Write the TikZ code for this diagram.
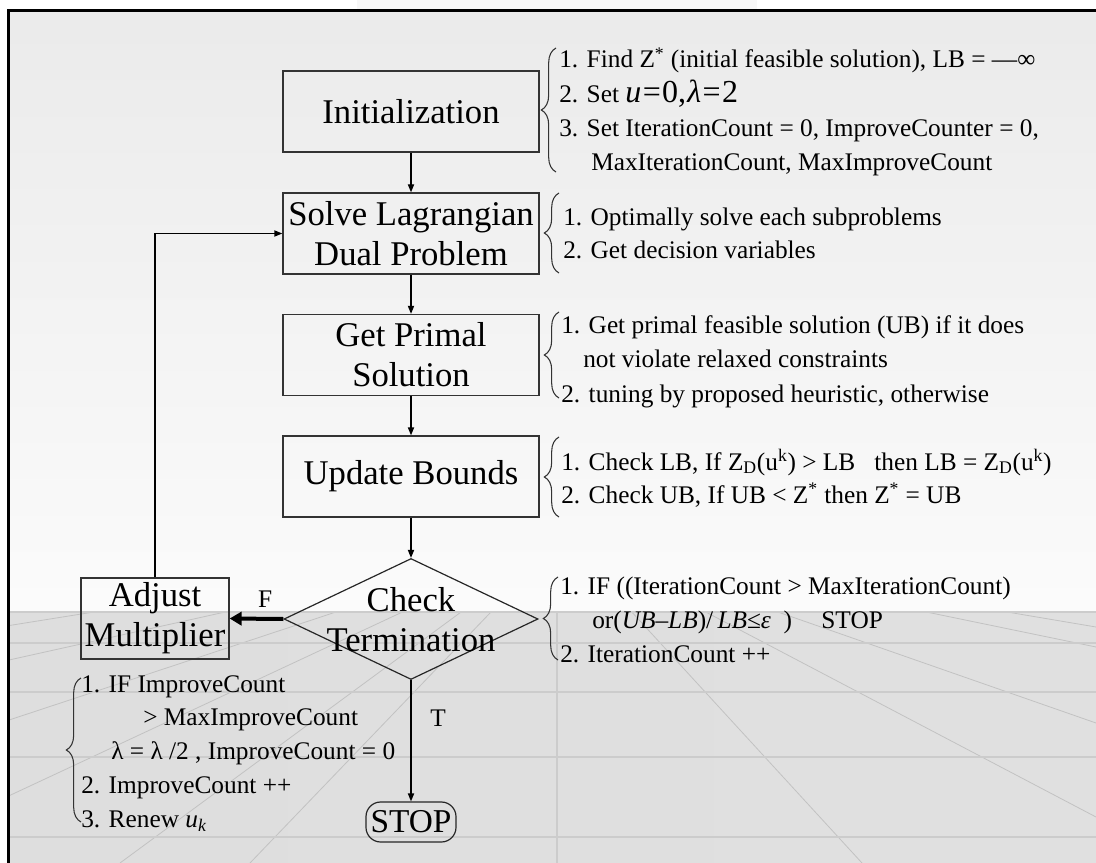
\documentclass[tikz,border=0pt]{standalone}
\usepackage{fontspec}
\setmainfont{Liberation Serif}
\usetikzlibrary{arrows.meta,shapes.geometric,decorations.pathreplacing}

\begin{document}
\begin{tikzpicture}[x=0.75pt,y=-0.75pt,
  stepbox/.style={draw=black!80, line width=1pt, minimum width=192pt, minimum height=60.75pt,
    inner sep=0pt, align=center, font=\fontsize{26}{30}\selectfont},
  adjbox/.style={stepbox, minimum width=111pt},
  decision/.style={draw=black!85, line width=0.9pt, diamond, minimum width=190.5pt,
    minimum height=90.75pt, inner sep=0pt},
  bigtext/.style={inner sep=0pt, align=center, font=\fontsize{26}{30}\selectfont},
  stopbox/.style={draw=black!85, line width=0.9pt, rounded corners=11pt, minimum width=67.5pt,
    minimum height=30pt, inner sep=0pt, font=\fontsize{25}{28}\selectfont},
  note/.style={anchor=base west, inner sep=0pt, font=\fontsize{19}{25}\selectfont},
  flow/.style={line width=1pt, -{Triangle[length=6pt,width=4.6pt]}},
  boldflow/.style={line width=3pt, -{Triangle[length=9pt,width=10pt]}},
  curly/.style={draw=black!80, line width=0.8pt, decorate, decoration={brace, amplitude=#1}},
  curly/.default=11pt,
  floorline/.style={draw=black!20, line width=1.1pt},
  ray/.style={draw=black!24, line width=0.6pt},
  flowlabel/.style={inner sep=0pt, font=\fontsize{19}{22}\selectfont}
]
\useasboundingbox (0,0) rectangle (1096,863);

% slide background
\fill[white] (0,0) rectangle (1096,863);
\fill[black!3] (357,0) rectangle (757,9);
\shade[top color=black!8, bottom color=black!1.5] (9,11) rectangle (1096,612);
\shade[left color=black!13, middle color=black!2, right color=black!12] (9,612) rectangle (1096,863);

% perspective floor grid
\begin{scope}
  \clip (9,612) rectangle (1096,863);
  \foreach \a/\b in {0/627, 0/662, 0/723, 0/800, 120/863, 250/863,
                     862/863, 1096/817, 1096/723, 1096/647, 1096/627}
    \draw[ray] (563,537) -- (\a,\b);
\end{scope}
\foreach \yy in {612,643,692,757,837}
  \draw[floorline] (9,\yy) -- (1096,\yy);
\draw[floorline] (557,612) -- (557,863);

% slide frame
\draw[line width=2.3pt] (7,10.5) -- (1096,10.5);
\draw[line width=2.3pt] (8.5,9.5) -- (8.5,863);

% flowchart nodes
\node[stepbox] (init)   at (411,111.5) {Initialization};
\node[stepbox] (solve)  at (411,233.5) {Solve Lagrangian\\Dual Problem};
\node[stepbox] (primal) at (411,355)   {Get Primal\\Solution};
\node[stepbox] (update) at (411,476.5) {Update Bounds};
\node[decision] (chk)   at (411,619)   {};
\node[bigtext] (chkt)   at (411,620)   {Check\\Termination};
\node[adjbox] (adj)     at (155,618.5) {Adjust\\Multiplier};
\node[stopbox] (stop)   at (411,822)   {STOP};

% connectors
\draw[flow] (init.south) -- (solve.north);
\draw[flow] (solve.south) -- (primal.north);
\draw[flow] (primal.south) -- (update.north);
\draw[flow] (update.south) -- (chk.north);
\draw[flow] (chk.south) -- node[flowlabel, pos=0.31, right=14pt] (tlab) {T} (stop.north);
\draw[boldflow] (chk.west) -- node[flowlabel, pos=0.34, above=7pt] (flab) {F} (adj.east);
\draw[flow] (adj.north) |- (solve.west);

% braces
\draw[curly=11pt] (556,172) -- (556,48);
\draw[curly=11pt] (559,273) -- (559,193);
\draw[curly=11pt] (559,398) -- (559,312);
\draw[curly=11pt] (559,517) -- (559,437);
\draw[curly=11pt] (558,660) -- (558,577);
\draw[curly=11pt] (81,822) -- (81,678);

% step notes
\node[note] (i1) at (559,68)  {1. Find Z\textsuperscript{*} (initial feasible solution), LB = —∞};
\node[note] (i2) at (559,103) {2. Set {\fontsize{24}{24}\selectfont\itshape u\kern1pt\upshape=\kern1pt0,\kern1pt\itshape λ\kern1pt\upshape=\kern1pt2}};
\node[note] (i3) at (559,137) {3. Set IterationCount = 0, ImproveCounter = 0,};
\node[note] (i4) at (591,171) {MaxIterationCount, MaxImproveCount};

\node[note] (s1) at (563,225) {1. Optimally solve each subproblems};
\node[note] (s2) at (563,258) {2. Get decision variables};

\node[note] (p1) at (561,333) {1. Get primal feasible solution (UB) if it does};
\node[note] (p2) at (583,367) {not violate relaxed constraints};
\node[note] (p3) at (561,402) {2. tuning by proposed heuristic, otherwise};

\node[note] (u1) at (561,470) {1. Check LB, If Z\textsubscript{D}(u\textsuperscript{k}) > LB\ \ \ then LB = Z\textsubscript{D}(u\textsuperscript{k})};
\node[note] (u2) at (561,503) {2. Check UB, If UB < Z\textsuperscript{*} then Z\textsuperscript{*} = UB};

\node[note] (c1) at (560,594) {1. IF ((IterationCount > MaxIterationCount)};
\node[note] (c2) at (592,628) {or(\textit{UB}–\textit{LB})/\,\textit{LB}≤\textit{ε}\ \ )\hspace{22pt}STOP};
\node[note] (c3) at (560,662) {2. IterationCount ++};

\node[note] (a1) at (81,692)  {1. IF ImproveCount};
\node[note] (a2) at (143,725) {> MaxImproveCount};
\node[note] (a3) at (111,759) {λ = λ /2 , ImproveCount = 0};
\node[note] (a4) at (81,793)  {2. ImproveCount ++};
\node[note] (a5) at (81,827)  {3. Renew \textit{u}\textsubscript{\textit{k}}};
\end{tikzpicture}
\end{document}
